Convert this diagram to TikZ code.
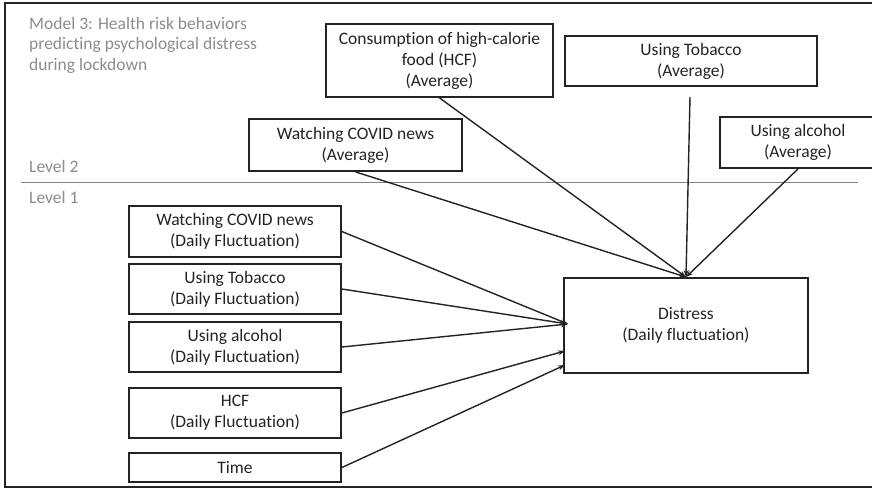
\documentclass[tikz,border=0pt]{standalone}
\usepackage{fontspec}
\setmainfont{Carlito}[Ligatures={NoCommon}]
\usetikzlibrary{arrows.meta}
\definecolor{ink}{RGB}{35,35,35}
\definecolor{titlegray}{RGB}{140,140,140}
\definecolor{divgray}{RGB}{130,130,130}
\begin{document}
\begin{tikzpicture}[x=1pt,y=-1pt,
  box/.style={draw=ink,line width=1.8pt,rectangle,inner sep=0pt,align=center,text=ink,
    font=\fontsize{17.5}{21}\selectfont},
  lbl/.style={text=titlegray,inner sep=0pt,anchor=base west,font=\fontsize{17.5}{21}\selectfont},
  conn/.style={draw=ink,line width=1.4pt},
  arr/.style={conn,-{Stealth[length=7pt,width=5pt]}}]
\useasboundingbox (0,0) rectangle (872,490);
\clip (0,0) rectangle (872,490);
% outer frame
\draw[ink,line width=1.5pt] (5,3) rectangle (900,487);
% level divider
\draw[divgray,line width=0.8pt] (21,182) -- (858,182);
% title and level labels
\node[lbl] (t1) at (29,29) {Model 3: Health risk behaviors};
\node[lbl] (t2) at (29,49.5) {predicting psychological distress};
\node[lbl] (t3) at (29,70) {during lockdown};
\node[lbl] (lv2) at (29,172) {Level 2};
\node[lbl] (lv1) at (29,203) {Level 1};
% level 2 boxes
\node[box,minimum width=227,minimum height=73] (hcfavg) at (439.5,60.5) {Consumption of high-calorie\\food (HCF)\\(Average)};
\node[box,minimum width=252,minimum height=50] (tobavg) at (691,61) {Using Tobacco\\(Average)};
\node[box,minimum width=156,minimum height=51] (alcavg) at (798,142.5) {Using alcohol\\(Average)};
\node[box,minimum width=213,minimum height=52] (newsavg) at (355.5,145) {Watching COVID news\\(Average)};
% level 1 boxes
\node[box,minimum width=212,minimum height=51] (newsd) at (235,231.5) {Watching COVID news\\(Daily Fluctuation)};
\node[box,minimum width=212,minimum height=50] (tobd) at (235,289) {Using Tobacco\\(Daily Fluctuation)};
\node[box,minimum width=212,minimum height=50] (alcd) at (235,347) {Using alcohol\\(Daily Fluctuation)};
\node[box,minimum width=212,minimum height=50] (hcfd) at (235,413) {HCF\\(Daily Fluctuation)};
\node[box,minimum width=212,minimum height=29] (timed) at (235,467.5) {Time};
% outcome
\node[box,minimum width=244,minimum height=95] (dist) at (686,325.5) {Distress\\(Daily fluctuation)};
% arrow tips on distress box
\coordinate (tipa) at (568,324);
\coordinate (tipb) at (565,351);
\coordinate (tipc) at (565,365);
\coordinate (tobstart) at (690,97);
% level 2 arrows
\draw[arr] (newsavg.south) -- (dist.north);
\draw[arr] (hcfavg.south) -- (dist.north);
\draw[arr] (tobstart) -- (dist.north);
\draw[arr] (alcavg.south) -- (dist.north);
% level 1 arrows
\draw[arr] (newsd.east) -- (tipa);
\draw[arr] (tobd.east) -- (tipa);
\draw[arr] (alcd.east) -- (tipa);
\draw[arr] (hcfd.east) -- (tipb);
\draw[arr] (timed.east) -- (tipc);
\end{tikzpicture}
\end{document}
